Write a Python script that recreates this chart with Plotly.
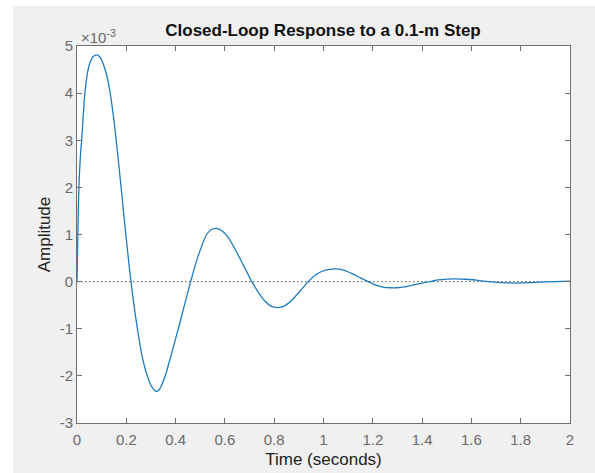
import plotly.graph_objects as go

# Closed-loop step response (amplitude in units of 1e-3 m)
time_s = [0, 0.003, 0.006, 0.010, 0.015, 0.019, 0.025, 0.032, 0.040, 0.046,
          0.055, 0.065, 0.080, 0.095, 0.105, 0.114, 0.124, 0.134, 0.146, 0.158,
          0.179, 0.198, 0.219, 0.245, 0.265, 0.285, 0.300, 0.313, 0.323, 0.335,
          0.347, 0.361, 0.385, 0.411, 0.436, 0.461, 0.490, 0.526, 0.545, 0.567,
          0.590, 0.607, 0.635, 0.660, 0.685, 0.709, 0.735, 0.760, 0.787, 0.813,
          0.840, 0.870, 0.905, 0.938, 0.965, 0.995, 1.025, 1.053, 1.085, 1.120,
          1.150, 1.182, 1.215, 1.245, 1.270, 1.297, 1.330, 1.365, 1.400, 1.432,
          1.465, 1.500, 1.540, 1.580, 1.620, 1.670, 1.720, 1.780, 1.840, 1.920,
          2.000]
amplitude_e3 = [0, 0.9, 1.7, 2.3, 2.75, 3.0, 3.5, 4.0, 4.35, 4.52,
                4.68, 4.77, 4.81, 4.75, 4.64, 4.50, 4.30, 4.02, 3.58, 3.05,
                2.0, 1.0, 0.0, -1.0, -1.6, -2.0, -2.2, -2.3, -2.33, -2.28,
                -2.15, -1.95, -1.5, -1.0, -0.5, 0.0, 0.52, 1.0, 1.1, 1.13,
                1.07, 0.98, 0.75, 0.50, 0.25, 0.0, -0.22, -0.40, -0.52, -0.55,
                -0.52, -0.40, -0.20, 0.0, 0.13, 0.22, 0.26, 0.27, 0.24, 0.16,
                0.08, 0.0, -0.08, -0.12, -0.13, -0.13, -0.11, -0.07, -0.03, 0.0,
                0.035, 0.055, 0.06, 0.05, 0.03, 0.0, -0.02, -0.03, -0.02, 0.0,
                0.01]
steady_state = 0.0

x_ticks = [0, 0.2, 0.4, 0.6, 0.8, 1, 1.2, 1.4, 1.6, 1.8, 2]
x_tick_labels = ["0", "0.2", "0.4", "0.6", "0.8", "1", "1.2", "1.4", "1.6", "1.8", "2"]
y_ticks_e3 = [-3, -2, -1, 0, 1, 2, 3, 4, 5]
y_tick_labels = ["-3", "-2", "-1", "0", "1", "2", "3", "4", "5"]

scale = 1e-3
amplitude = [v * scale for v in amplitude_e3]

W, H = 595, 473
L, R, T, B = 77, 25, 46, 50
pw, ph = W - L - R, H - T - B

def px_x(p):
    return (p - L) / pw

def px_y(p):
    return (H - B - p) / ph

axis_col = "#707070"
tick_col = "#6a6a6a"
font_family = "Liberation Sans, Arial, sans-serif"

fig = go.Figure()
fig.add_trace(go.Scatter(
    x=[x_ticks[0], x_ticks[-1]], y=[steady_state, steady_state],
    mode="lines", line=dict(color="#555555", width=1, dash="1.5px,2.5px"),
    hoverinfo="skip", showlegend=False,
))
fig.add_trace(go.Scatter(
    x=time_s, y=amplitude, mode="lines",
    line=dict(color="#1a7cc1", width=1.3, shape="spline", smoothing=0.8),
    showlegend=False,
))

axis_common = dict(
    showline=True, linecolor=axis_col, linewidth=1, mirror="ticks",
    ticks="inside", ticklen=5, tickcolor=axis_col, tickwidth=1,
    showgrid=False, zeroline=False, automargin=False,
    tickfont=dict(family=font_family, size=15, color=tick_col),
)

fig.update_layout(
    width=W, height=H,
    margin=dict(l=L, r=R, t=T, b=B),
    paper_bgcolor="#f0f0f0", plot_bgcolor="white",
    title=dict(text="<b>Closed-Loop Response to a 0.1-m Step</b>",
               x=px_x(323), xref="paper", xanchor="center",
               y=1 - 30 / H, yanchor="middle",
               font=dict(family=font_family, size=17, color="#111111")),
    xaxis=dict(range=[0, 2], tickvals=x_ticks, ticktext=x_tick_labels,
               ticklabelstandoff=3,
               title=dict(text="Time (seconds)", standoff=6,
                          font=dict(family=font_family, size=17, color="#222222")),
               **axis_common),
    yaxis=dict(range=[-3 * scale, 5 * scale],
               tickvals=[v * scale for v in y_ticks_e3], ticktext=y_tick_labels,
               title=dict(text="Amplitude", standoff=4,
                          font=dict(family=font_family, size=17, color="#222222")),
               **axis_common),
    annotations=[dict(
        text="×10<sup>-3</sup>", xref="paper", yref="paper",
        x=px_x(79), y=px_y(37), xanchor="left", yanchor="middle",
        showarrow=False, font=dict(family=font_family, size=15, color=tick_col),
    )],
    shapes=[
        dict(type="rect", xref="paper", yref="paper", layer="below",
             x0=px_x(0), x1=px_x(W), y0=px_y(0), y1=px_y(6),
             fillcolor="white", line=dict(width=0)),
        dict(type="rect", xref="paper", yref="paper", layer="below",
             x0=px_x(0), x1=px_x(13), y0=px_y(H), y1=px_y(0),
             fillcolor="white", line=dict(width=0)),
    ],
)

fig.write_html("out.html")
